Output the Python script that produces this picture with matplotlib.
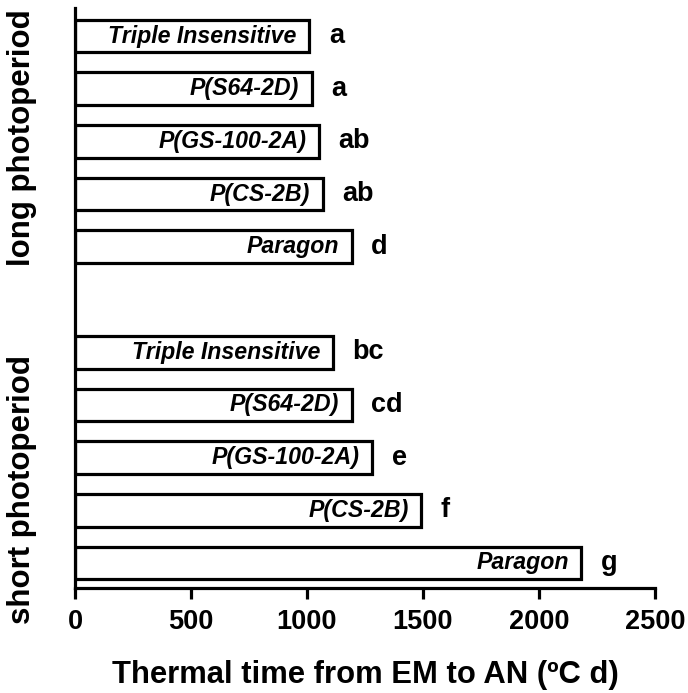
import matplotlib
matplotlib.use("Agg")
import matplotlib.pyplot as plt

plt.rcParams['font.family'] = ['Liberation Sans', 'DejaVu Sans']

genotypes = ["Triple Insensitive", "P(S64-2D)", "P(GS-100-2A)", "P(CS-2B)", "Paragon"]
long_values = [1010, 1020, 1052, 1068, 1192]
short_values = [1110, 1192, 1282, 1492, 2183]
long_letters = ["a", "a", "ab", "ab", "d"]
short_letters = ["bc", "cd", "e", "f", "g"]
group_labels = ["long photoperiod", "short photoperiod"]
xticks = [0, 500, 1000, 1500, 2000, 2500]
xlabel = "Thermal time from EM to AN (ºC d)"

fig = plt.figure(figsize=(6.88, 6.93), dpi=100)
ax = fig.add_axes([75/688, 1-588/693, (655-75)/688, (588-8)/693])

labels = genotypes + genotypes
values = long_values + short_values
letters = long_letters + short_letters
positions = list(range(0, 5)) + list(range(6, 11))

ax.barh(positions, values, height=0.62, color="white", edgecolor="black", linewidth=2.3, zorder=2)

for pos, v, lab, let in zip(positions, values, labels, letters):
    ax.annotate(lab, xy=(v, pos), xytext=(-9, 0), textcoords="offset points",
                ha="right", va="center", fontsize=16.7, fontweight="bold", style="italic", zorder=3)
    ax.annotate(let, xy=(v, pos), xytext=(14, 0), textcoords="offset points",
                ha="left", va="center", fontsize=19.5, fontweight="bold", zorder=3)

ax.set_xlim(0, 2500)
ax.set_ylim(10.475, -0.532)
ax.set_xticks(xticks)
ax.set_xticklabels([str(t) for t in xticks], fontsize=19.5, fontweight="bold")
ax.set_yticks([])
ax.tick_params(axis="x", length=8, width=2.3, pad=7)
for s in ["top", "right"]:
    ax.spines[s].set_visible(False)
for s in ["left", "bottom"]:
    ax.spines[s].set_linewidth(2.3)
ax.set_xlabel(xlabel, fontsize=22.3, fontweight="bold", labelpad=18)

fig.text(22/688, 1-138/693, group_labels[0], rotation=90, ha="center", va="center",
         fontsize=22.5, fontweight="bold")
fig.text(22/688, 1-490/693, group_labels[1], rotation=90, ha="center", va="center",
         fontsize=22.5, fontweight="bold")

fig.savefig("out.png", dpi=100)
